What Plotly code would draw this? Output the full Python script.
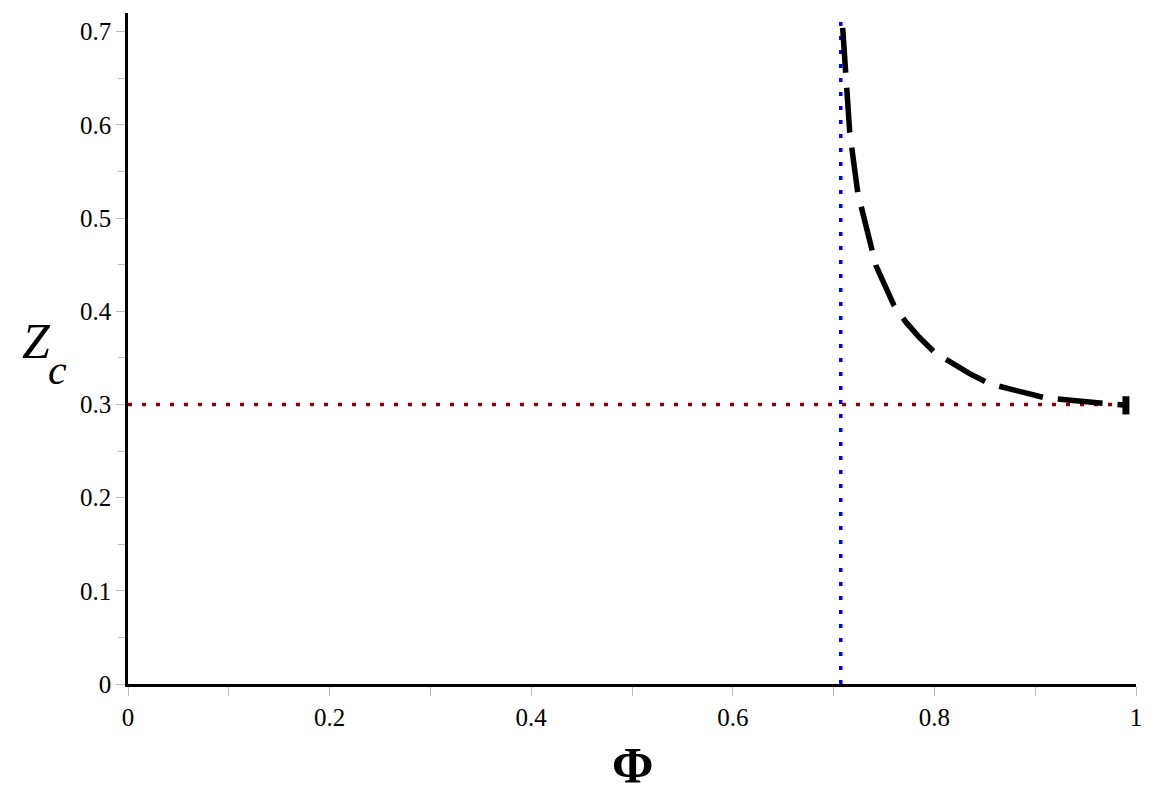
import plotly.graph_objects as go

# Data
phi = [0.709, 0.712, 0.716, 0.724, 0.733, 0.742, 0.752, 0.760, 0.772, 0.785,
       0.800, 0.815, 0.835, 0.855, 0.870, 0.890, 0.910, 0.930, 0.950, 0.970, 0.990]
zc = [0.704, 0.656, 0.592, 0.527, 0.485, 0.449, 0.425, 0.406, 0.388, 0.372,
      0.356, 0.346, 0.333, 0.322, 0.318, 0.312, 0.307, 0.305, 0.303, 0.301, 0.299]
phi_crit = 0.7071
z_asym = 0.3
x_ticks = [0, 0.2, 0.4, 0.6, 0.8, 1]
x_labels = ["0", "0.2", "0.4", "0.6", "0.8", "1"]
y_ticks = [0, 0.1, 0.2, 0.3, 0.4, 0.5, 0.6, 0.7]
y_labels = ["0", "0.1", "0.2", "0.3", "0.4", "0.5", "0.6", "0.7"]

X_RANGE = [0, 1]
Y_RANGE = [0, 0.72]

fig = go.Figure()

# horizontal dotted asymptote
fig.add_trace(go.Scatter(
    x=X_RANGE, y=[z_asym, z_asym], mode="lines",
    line=dict(color="#8B0000", width=3.5, dash="4px,10px"),
    showlegend=False, hoverinfo="skip"))

# vertical dotted line
fig.add_trace(go.Scatter(
    x=[phi_crit, phi_crit], y=Y_RANGE, mode="lines",
    line=dict(color="#0000FF", width=3.5, dash="4px,10px"),
    showlegend=False, hoverinfo="skip"))

# dashed curve
fig.add_trace(go.Scatter(
    x=phi, y=zc, mode="lines",
    line=dict(color="black", width=5.5, dash="45px,15px"),
    showlegend=False))

# end mark
fig.add_trace(go.Scatter(
    x=[phi[-1]], y=[zc[-1]], mode="markers",
    marker=dict(symbol="line-ns-open", size=13, color="black",
                line=dict(color="black", width=7)),
    showlegend=False))

FONT = "Liberation Serif"

fig.update_layout(
    width=1157, height=811,
    margin=dict(l=128, r=21, t=13, b=127),
    paper_bgcolor="white", plot_bgcolor="white",
    font=dict(family=FONT, size=25, color="black"),
    xaxis=dict(
        range=X_RANGE, tickvals=x_ticks, ticktext=x_labels,
        showgrid=False, zeroline=False,
        showline=True, linecolor="black", linewidth=2.5,
        ticks="outside", ticklen=9, tickcolor="#BBBBBB", tickwidth=1,
        minor=dict(tickvals=[0.1, 0.3, 0.5, 0.7, 0.9], ticks="outside",
                   ticklen=9, tickcolor="#BBBBBB", tickwidth=1, showgrid=False),
        tickfont=dict(family=FONT, size=25, color="black"),
    ),
    yaxis=dict(
        range=Y_RANGE, tickvals=y_ticks, ticktext=y_labels,
        showgrid=False, zeroline=False,
        showline=True, linecolor="black", linewidth=2.5,
        ticks="outside", ticklen=9, tickcolor="#BBBBBB", tickwidth=1,
        minor=dict(tickvals=[0.05, 0.15, 0.25, 0.35, 0.45, 0.55, 0.65], ticks="outside",
                   ticklen=7, tickcolor="#BBBBBB", tickwidth=1, showgrid=False),
        tickfont=dict(family=FONT, size=25, color="black"),
    ),
    annotations=[
        dict(text="<b>Φ</b>", xref="paper", yref="paper", x=0.5, y=(684 - 765) / 671,
             xanchor="center", yanchor="middle", showarrow=False,
             font=dict(family=FONT, size=50, color="black")),
        dict(text="<i>Z</i>", xref="paper", yref="paper",
             x=(36 - 128) / 1008, y=(684 - 341) / 671,
             xanchor="center", yanchor="middle", showarrow=False,
             font=dict(family=FONT, size=50, color="black")),
        dict(text="<i>c</i>", xref="paper", yref="paper",
             x=(57 - 128) / 1008, y=(684 - 370) / 671,
             xanchor="center", yanchor="middle", showarrow=False,
             font=dict(family=FONT, size=42, color="black")),
    ],
)

fig.write_html("out.html")
